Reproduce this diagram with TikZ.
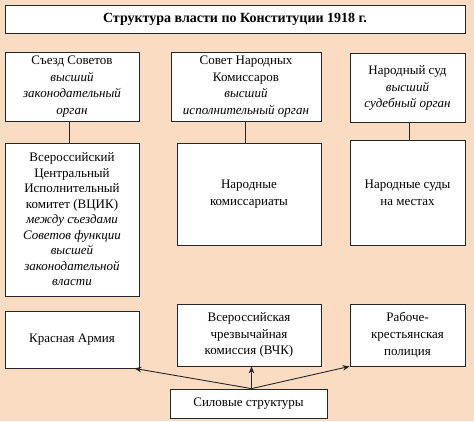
\documentclass[tikz,border=0pt]{standalone}
\usepackage{fontspec}
\setmainfont{Liberation Serif}
\usetikzlibrary{arrows.meta}
\definecolor{bgpeach}{HTML}{FADCC3}
\tikzset{
  box/.style={draw=black!85, line width=0.8pt, fill=white, align=center, inner sep=1pt,
    font=\fontsize{13}{16.8}\selectfont},
  link/.style={draw=black!85, line width=0.8pt},
  arr/.style={draw=black!85, line width=0.9pt, -{Stealth[length=7pt,width=5.5pt]}}
}
\begin{document}
\begin{tikzpicture}[x=1pt,y=-1pt]
\fill[bgpeach] (0,0) rectangle (474,421);
\useasboundingbox (0,0) rectangle (474,421);
\node[box, minimum width=460, minimum height=28, font=\fontsize{14}{16}\selectfont\bfseries] (title) at (235,19) {Структура власти по Конституции 1918 г.};
\node[box, minimum width=134, minimum height=69] (s1) at (72,86.5) {Съезд Советов\\\textit{высший}\\\textit{законодательный}\\\textit{орган}};
\node[box, minimum width=150, minimum height=69] (s2) at (246,86.5) {Совет Народных\\Комиссаров\\\textit{высший}\\\textit{исполнительный орган}};
\node[box, minimum width=115, minimum height=69] (s3) at (407.5,88) {Народный суд\\\textit{высший}\\\textit{судебный орган}};
\node[box, minimum width=134, minimum height=153, font=\fontsize{13}{15.5}\selectfont] (v1) at (72,219.5) {Всероссийский\\Центральный\\Исполнительный\\комитет (ВЦИК)\\\textit{между съездами}\\\textit{Советов функции}\\\textit{высшей}\\\textit{законодательной}\\\textit{власти}};
\node[box, minimum width=144, minimum height=102] (v2) at (249,194) {Народные\\комиссариаты};
\node[box, minimum width=115, minimum height=105] (v3) at (407.5,192.5) {Народные суды\\на местах};
\node[box, minimum width=134, minimum height=57] (a1) at (72,339.5) {Красная Армия};
\node[box, minimum width=144, minimum height=62] (a2) at (249,335) {Всероссийская\\чрезвычайная\\комиссия (ВЧК)};
\node[box, minimum width=115, minimum height=62] (a3) at (407.5,335) {Рабоче-\\крестьянская\\полиция};
\node[box, minimum width=157, minimum height=29] (sil) at (248.5,403.5) {Силовые структуры};
\coordinate (hub) at ([xshift=3pt]sil.north);
\draw[link] ([xshift=-3pt]s1.south) -- ([xshift=-3pt]s1.south |- v1.north);
\draw[link] ([xshift=-1pt]s2.south) -- ([xshift=-1pt]s2.south |- v2.north);
\draw[link] ([xshift=1.5pt]s3.south) -- ([xshift=1.5pt]s3.south |- v3.north);
\draw[arr] (hub) -- ([xshift=-5pt]a1.south east);
\draw[arr] (hub) -- (hub |- a2.south);
\draw[arr] (hub) -- (a3.south west);
\end{tikzpicture}
\end{document}
